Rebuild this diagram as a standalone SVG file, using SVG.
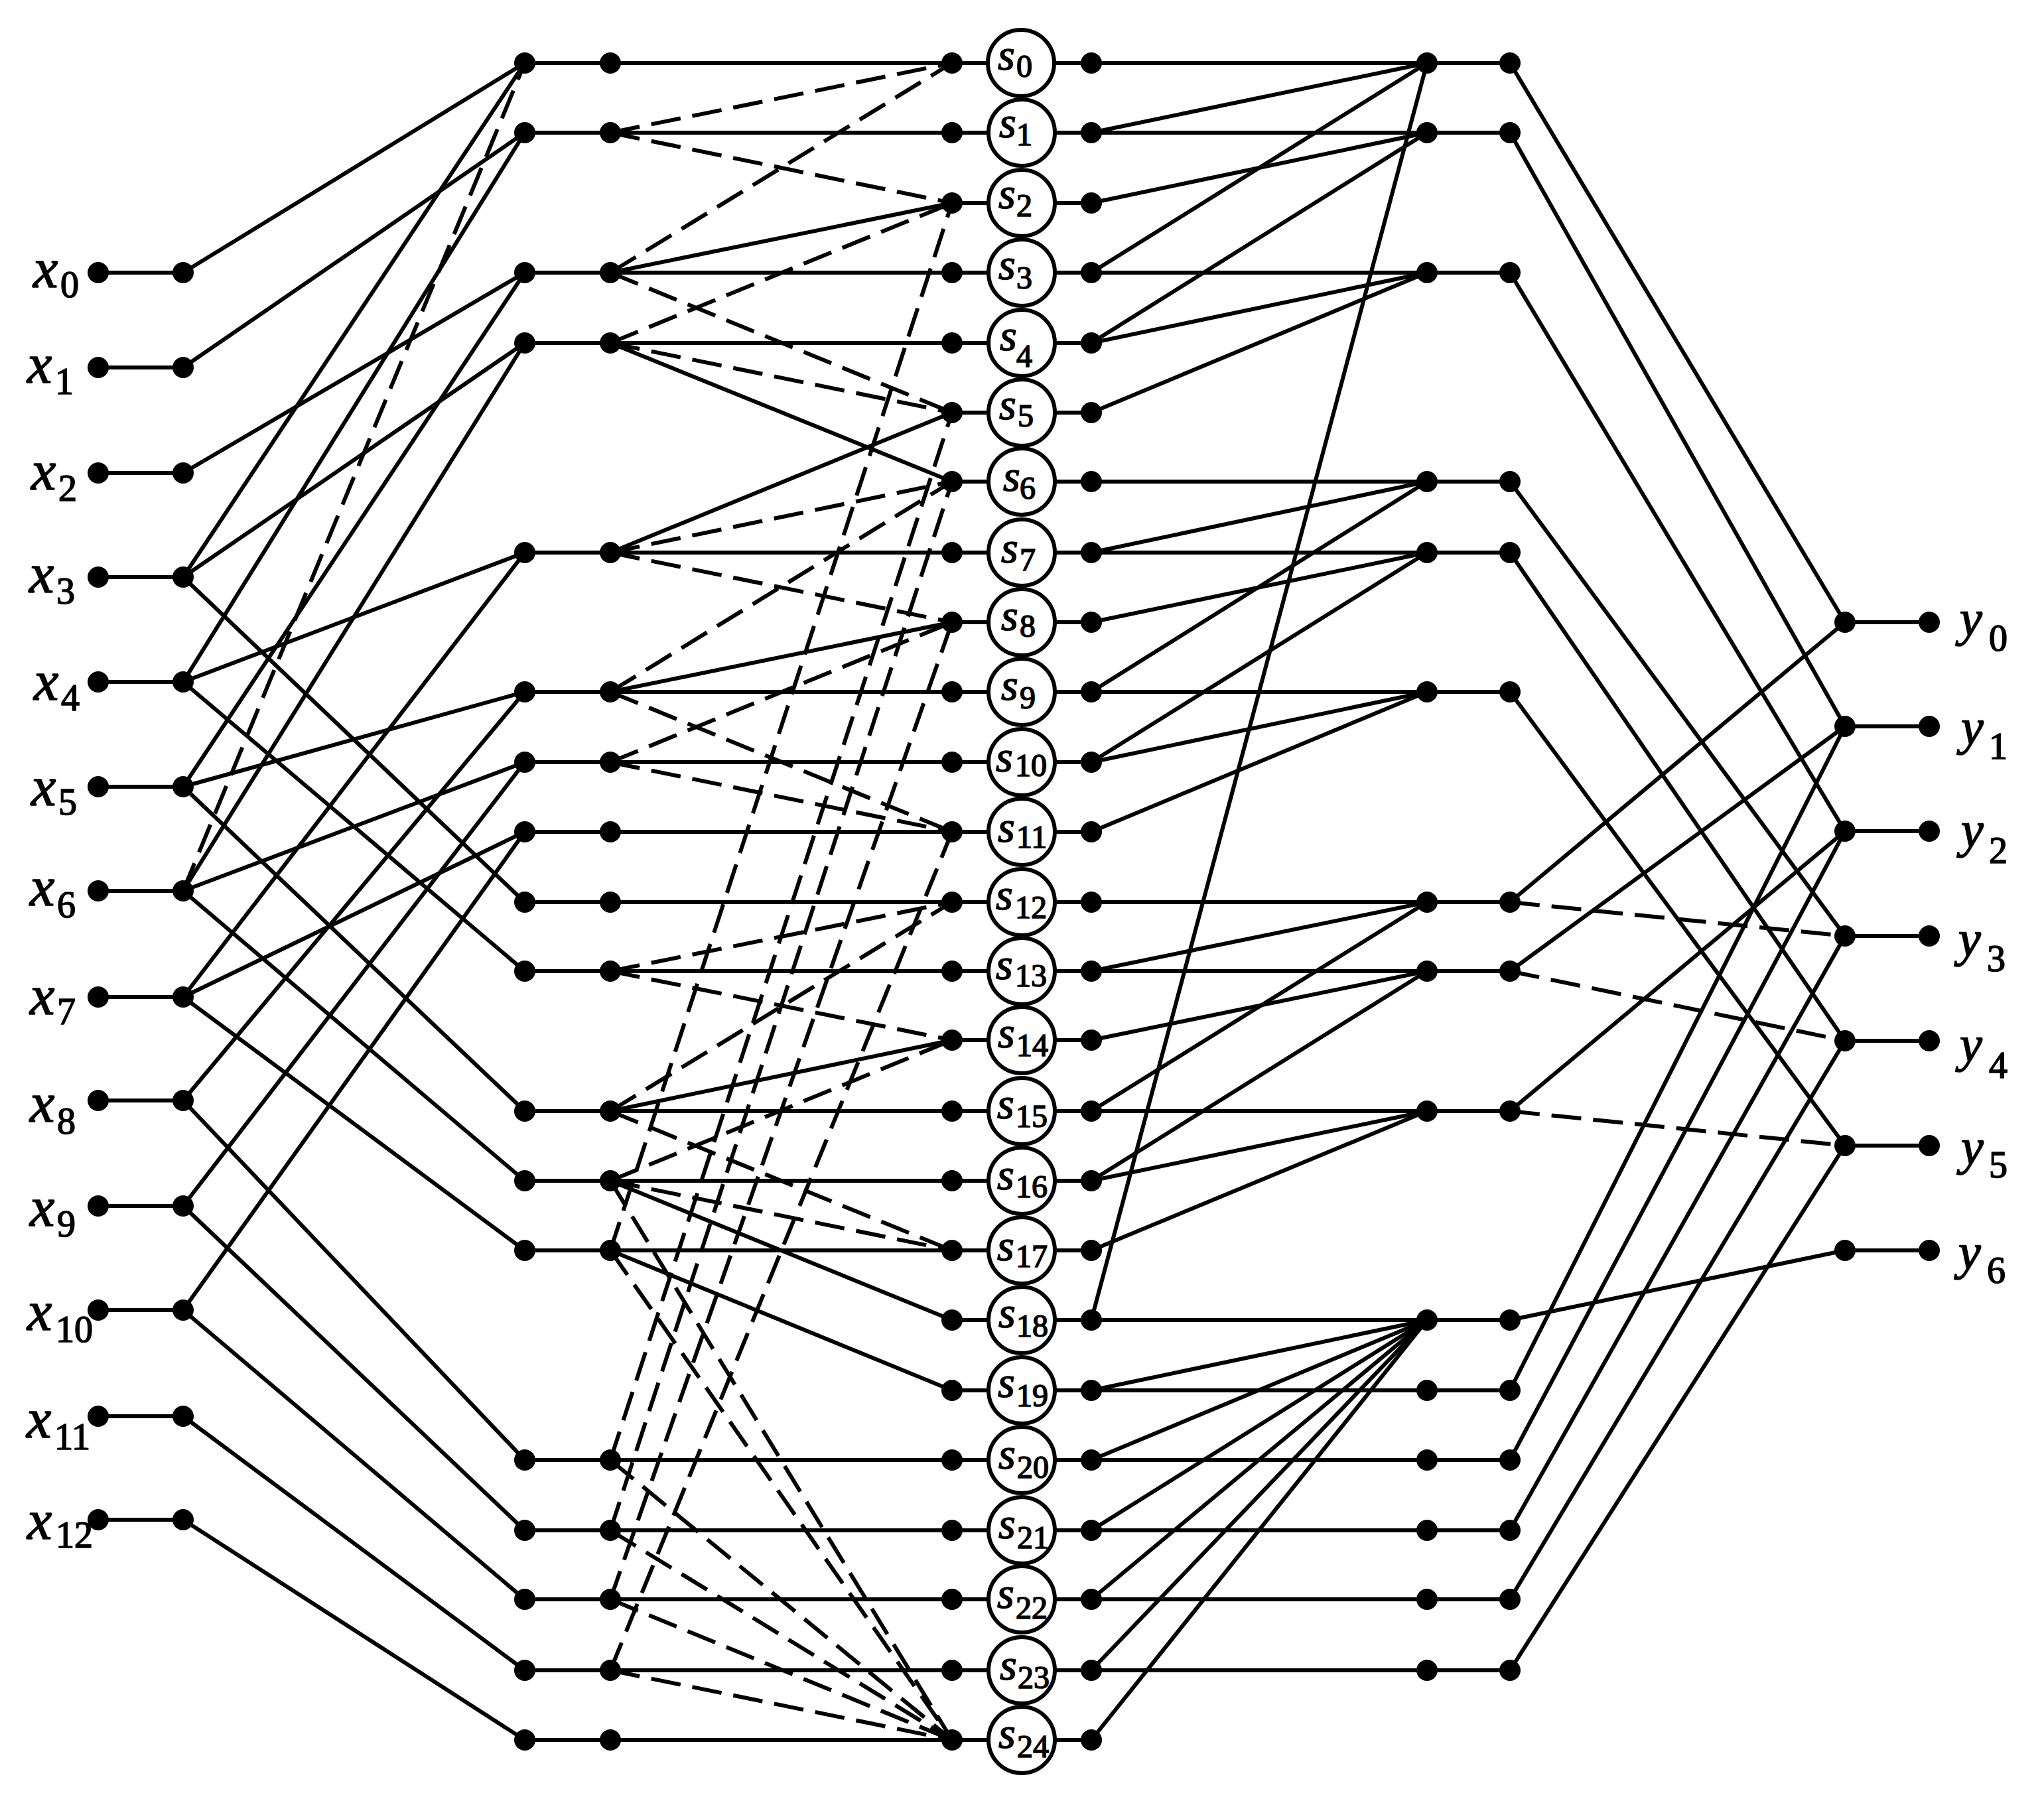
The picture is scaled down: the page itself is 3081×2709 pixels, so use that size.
<svg xmlns="http://www.w3.org/2000/svg" width="3081" height="2709" viewBox="0 0 3081 2709">
<style>
path{fill:none;stroke:#000;stroke-width:6}
.d{stroke-dasharray:45 18}
.n{fill:#000}
.o{fill:#fff;stroke:#000;stroke-width:6}
text{font-family:"Liberation Serif","DejaVu Serif",serif;font-style:italic;fill:#000;stroke:#000;stroke-width:1.6}
.l{font-size:84px}
.m{font-size:66px}
.b{font-style:normal}
.l .b{font-size:56px}
.m .b{font-size:48px}
#labels-y text{font-size:76px}
#labels-y .b{font-size:56px}
</style>
<rect width="3081" height="2709" fill="#fff"/>
<g id="connectors">
<path d="M148 411H276M148 554H276M148 713H276M148 870H276M148 1028H276M148 1186H276M148 1343H276M148 1503H276M148 1659H276M148 1818H276M148 1975H276M148 2135H276M148 2291H276"/>
<path d="M276 411L791 95"/><path d="M276 554L791 200"/><path d="M276 713L791 411"/>
<path d="M276 870L791 95"/><path d="M276 870L791 517"/><path d="M276 870L791 1360"/>
<path d="M276 1028L791 200"/><path d="M276 1028L791 833"/><path d="M276 1028L791 1464"/>
<path d="M276 1186L791 411"/><path d="M276 1186L791 1043"/><path d="M276 1186L791 1675"/>
<path d="M276 1343L791 517"/><path d="M276 1343L791 1149"/><path d="M276 1343L791 1780"/>
<path class="d" d="M276 1343L791 95"/>
<path d="M276 1503L791 833"/><path d="M276 1503L791 1254"/><path d="M276 1503L791 1885"/>
<path d="M276 1659L791 1043"/><path d="M276 1659L791 2201"/>
<path d="M276 1818L791 1149"/><path d="M276 1818L791 2307"/>
<path d="M276 1975L791 1254"/><path d="M276 1975L791 2411"/>
<path d="M276 2135L791 2518"/><path d="M276 2291L791 2623"/>
<path d="M791 95H1490M791 200H1490M791 411H1490M791 517H1490M791 833H1490M791 1043H1490M791 1149H1490M791 1254H1490M791 1360H1490M791 1464H1490M791 1675H1490M791 1780H1490M791 1885H1490M791 2201H1490M791 2307H1490M791 2411H1490M791 2518H1490M791 2623H1490"/>
<path d="M1435 306H1490M1435 622H1490M1435 726H1490M1435 938H1490M1435 1568H1490M1435 1990H1490M1435 2096H1490"/>
<path class="d" d="M920 200L1435 95"/><path class="d" d="M920 200L1435 306"/>
<path class="d" d="M920 411L1435 95"/><path d="M920 411L1435 306"/><path class="d" d="M920 411L1435 622"/>
<path class="d" d="M920 517L1435 306"/><path class="d" d="M920 517L1435 622"/><path d="M920 517L1435 726"/>
<path d="M920 833L1435 622"/><path class="d" d="M920 833L1435 726"/><path class="d" d="M920 833L1435 938"/>
<path class="d" d="M920 1043L1435 726"/><path d="M920 1043L1435 938"/><path class="d" d="M920 1043L1435 1254"/>
<path class="d" d="M920 1149L1435 938"/><path class="d" d="M920 1149L1435 1254"/>
<path class="d" d="M920 1464L1435 1360"/><path class="d" d="M920 1464L1435 1568"/>
<path class="d" d="M920 1675L1435 1360"/><path d="M920 1675L1435 1568"/><path class="d" d="M920 1675L1435 1885"/>
<path class="d" d="M920 1780L1435 1568"/><path class="d" d="M920 1780L1435 1885"/><path d="M920 1780L1435 1990"/>
<path d="M920 1885L1435 2096"/>
<path class="d" d="M920 1885L1435 306"/><path class="d" d="M920 2201L1435 622"/><path class="d" d="M920 2307L1435 726"/><path class="d" d="M920 2411L1435 938"/><path class="d" d="M920 2518L1435 1254"/>
<path class="d" d="M920 1780L1435 2623"/><path class="d" d="M920 1885L1435 2623"/><path class="d" d="M920 2201L1435 2623"/><path class="d" d="M920 2307L1435 2623"/><path class="d" d="M920 2411L1435 2623"/><path class="d" d="M920 2518L1435 2623"/>
<path d="M1590 95H1645M1590 200H1645M1590 306H1645M1590 411H1645M1590 517H1645M1590 622H1645M1590 726H1645M1590 833H1645M1590 938H1645M1590 1043H1645M1590 1149H1645M1590 1254H1645M1590 1360H1645M1590 1464H1645M1590 1568H1645M1590 1675H1645M1590 1780H1645M1590 1885H1645M1590 1990H1645M1590 2096H1645M1590 2201H1645M1590 2307H1645M1590 2411H1645M1590 2518H1645M1590 2623H1645"/>
<path d="M1645 95H2276M1645 200H2276M1645 411H2276M1645 726H2276M1645 833H2276M1645 1043H2276M1645 1360H2276M1645 1464H2276M1645 1675H2276M1645 1990H2276M1645 2096H2276M1645 2201H2276M1645 2307H2276M1645 2411H2276M1645 2518H2276"/>
<path d="M1645 200L2151 95"/><path d="M1645 306L2151 200"/><path d="M1645 411L2151 95"/><path d="M1645 517L2151 200"/><path d="M1645 517L2151 411"/><path d="M1645 622L2151 411"/>
<path d="M1645 833L2151 726"/><path d="M1645 938L2151 833"/><path d="M1645 1043L2151 726"/><path d="M1645 1149L2151 833"/><path d="M1645 1149L2151 1043"/><path d="M1645 1254L2151 1043"/>
<path d="M1645 1464L2151 1360"/><path d="M1645 1568L2151 1464"/><path d="M1645 1675L2151 1360"/><path d="M1645 1780L2151 1464"/><path d="M1645 1780L2151 1675"/><path d="M1645 1885L2151 1675"/>
<path d="M1645 1990L2151 95"/>
<path d="M1645 2096L2151 1990"/><path d="M1645 2201L2151 1990"/><path d="M1645 2307L2151 1990"/><path d="M1645 2411L2151 1990"/><path d="M1645 2518L2151 1990"/><path d="M1645 2623L2151 1990"/>
<path d="M2276 95L2781 938"/><path d="M2276 200L2781 1095"/><path d="M2276 411L2781 1253"/><path d="M2276 726L2781 1411"/><path d="M2276 833L2781 1569"/><path d="M2276 1043L2781 1727"/>
<path d="M2276 1360L2781 938"/><path class="d" d="M2276 1360L2781 1411"/>
<path d="M2276 1464L2781 1095"/><path class="d" d="M2276 1464L2781 1569"/>
<path d="M2276 1675L2781 1253"/><path class="d" d="M2276 1675L2781 1727"/>
<path d="M2276 1990L2781 1885"/>
<path d="M2276 2096L2781 1095"/><path d="M2276 2201L2781 1253"/><path d="M2276 2307L2781 1411"/><path d="M2276 2411L2781 1569"/><path d="M2276 2518L2781 1727"/>
<path d="M2781 938H2908M2781 1095H2908M2781 1253H2908M2781 1411H2908M2781 1569H2908M2781 1727H2908M2781 1885H2908"/>
</g>
<g id="dots-input">
<g id="a0"><circle class="n" cx="148" cy="411" r="16"/></g><g id="a1"><circle class="n" cx="148" cy="554" r="16"/></g><g id="a2"><circle class="n" cx="148" cy="713" r="16"/></g><g id="a3"><circle class="n" cx="148" cy="870" r="16"/></g><g id="a4"><circle class="n" cx="148" cy="1028" r="16"/></g><g id="a5"><circle class="n" cx="148" cy="1186" r="16"/></g><g id="a6"><circle class="n" cx="148" cy="1343" r="16"/></g><g id="a7"><circle class="n" cx="148" cy="1503" r="16"/></g><g id="a8"><circle class="n" cx="148" cy="1659" r="16"/></g><g id="a9"><circle class="n" cx="148" cy="1818" r="16"/></g><g id="a10"><circle class="n" cx="148" cy="1975" r="16"/></g><g id="a11"><circle class="n" cx="148" cy="2135" r="16"/></g><g id="a12"><circle class="n" cx="148" cy="2291" r="16"/></g>
<g id="b0"><circle class="n" cx="276" cy="411" r="16"/></g><g id="b1"><circle class="n" cx="276" cy="554" r="16"/></g><g id="b2"><circle class="n" cx="276" cy="713" r="16"/></g><g id="b3"><circle class="n" cx="276" cy="870" r="16"/></g><g id="b4"><circle class="n" cx="276" cy="1028" r="16"/></g><g id="b5"><circle class="n" cx="276" cy="1186" r="16"/></g><g id="b6"><circle class="n" cx="276" cy="1343" r="16"/></g><g id="b7"><circle class="n" cx="276" cy="1503" r="16"/></g><g id="b8"><circle class="n" cx="276" cy="1659" r="16"/></g><g id="b9"><circle class="n" cx="276" cy="1818" r="16"/></g><g id="b10"><circle class="n" cx="276" cy="1975" r="16"/></g><g id="b11"><circle class="n" cx="276" cy="2135" r="16"/></g><g id="b12"><circle class="n" cx="276" cy="2291" r="16"/></g>
</g>
<g id="dots-left">
<g id="c0"><circle class="n" cx="791" cy="95" r="16"/></g><g id="c1"><circle class="n" cx="791" cy="200" r="16"/></g><g id="c3"><circle class="n" cx="791" cy="411" r="16"/></g><g id="c4"><circle class="n" cx="791" cy="517" r="16"/></g><g id="c7"><circle class="n" cx="791" cy="833" r="16"/></g><g id="c9"><circle class="n" cx="791" cy="1043" r="16"/></g><g id="c10"><circle class="n" cx="791" cy="1149" r="16"/></g><g id="c11"><circle class="n" cx="791" cy="1254" r="16"/></g><g id="c12"><circle class="n" cx="791" cy="1360" r="16"/></g><g id="c13"><circle class="n" cx="791" cy="1464" r="16"/></g><g id="c15"><circle class="n" cx="791" cy="1675" r="16"/></g><g id="c16"><circle class="n" cx="791" cy="1780" r="16"/></g><g id="c17"><circle class="n" cx="791" cy="1885" r="16"/></g><g id="c20"><circle class="n" cx="791" cy="2201" r="16"/></g><g id="c21"><circle class="n" cx="791" cy="2307" r="16"/></g><g id="c22"><circle class="n" cx="791" cy="2411" r="16"/></g><g id="c23"><circle class="n" cx="791" cy="2518" r="16"/></g><g id="c24"><circle class="n" cx="791" cy="2623" r="16"/></g>
<g id="d0"><circle class="n" cx="920" cy="95" r="16"/></g><g id="d1"><circle class="n" cx="920" cy="200" r="16"/></g><g id="d3"><circle class="n" cx="920" cy="411" r="16"/></g><g id="d4"><circle class="n" cx="920" cy="517" r="16"/></g><g id="d7"><circle class="n" cx="920" cy="833" r="16"/></g><g id="d9"><circle class="n" cx="920" cy="1043" r="16"/></g><g id="d10"><circle class="n" cx="920" cy="1149" r="16"/></g><g id="d11"><circle class="n" cx="920" cy="1254" r="16"/></g><g id="d12"><circle class="n" cx="920" cy="1360" r="16"/></g><g id="d13"><circle class="n" cx="920" cy="1464" r="16"/></g><g id="d15"><circle class="n" cx="920" cy="1675" r="16"/></g><g id="d16"><circle class="n" cx="920" cy="1780" r="16"/></g><g id="d17"><circle class="n" cx="920" cy="1885" r="16"/></g><g id="d20"><circle class="n" cx="920" cy="2201" r="16"/></g><g id="d21"><circle class="n" cx="920" cy="2307" r="16"/></g><g id="d22"><circle class="n" cx="920" cy="2411" r="16"/></g><g id="d23"><circle class="n" cx="920" cy="2518" r="16"/></g><g id="d24"><circle class="n" cx="920" cy="2623" r="16"/></g>
</g>
<g id="dots-mid">
<g id="e0"><circle class="n" cx="1435" cy="95" r="16"/></g><g id="e1"><circle class="n" cx="1435" cy="200" r="16"/></g><g id="e2"><circle class="n" cx="1435" cy="306" r="16"/></g><g id="e3"><circle class="n" cx="1435" cy="411" r="16"/></g><g id="e4"><circle class="n" cx="1435" cy="517" r="16"/></g><g id="e5"><circle class="n" cx="1435" cy="622" r="16"/></g><g id="e6"><circle class="n" cx="1435" cy="726" r="16"/></g><g id="e7"><circle class="n" cx="1435" cy="833" r="16"/></g><g id="e8"><circle class="n" cx="1435" cy="938" r="16"/></g><g id="e9"><circle class="n" cx="1435" cy="1043" r="16"/></g><g id="e10"><circle class="n" cx="1435" cy="1149" r="16"/></g><g id="e11"><circle class="n" cx="1435" cy="1254" r="16"/></g><g id="e12"><circle class="n" cx="1435" cy="1360" r="16"/></g><g id="e13"><circle class="n" cx="1435" cy="1464" r="16"/></g><g id="e14"><circle class="n" cx="1435" cy="1568" r="16"/></g><g id="e15"><circle class="n" cx="1435" cy="1675" r="16"/></g><g id="e16"><circle class="n" cx="1435" cy="1780" r="16"/></g><g id="e17"><circle class="n" cx="1435" cy="1885" r="16"/></g><g id="e18"><circle class="n" cx="1435" cy="1990" r="16"/></g><g id="e19"><circle class="n" cx="1435" cy="2096" r="16"/></g><g id="e20"><circle class="n" cx="1435" cy="2201" r="16"/></g><g id="e21"><circle class="n" cx="1435" cy="2307" r="16"/></g><g id="e22"><circle class="n" cx="1435" cy="2411" r="16"/></g><g id="e23"><circle class="n" cx="1435" cy="2518" r="16"/></g><g id="e24"><circle class="n" cx="1435" cy="2623" r="16"/></g>
<g id="f0"><circle class="n" cx="1645" cy="95" r="16"/></g><g id="f1"><circle class="n" cx="1645" cy="200" r="16"/></g><g id="f2"><circle class="n" cx="1645" cy="306" r="16"/></g><g id="f3"><circle class="n" cx="1645" cy="411" r="16"/></g><g id="f4"><circle class="n" cx="1645" cy="517" r="16"/></g><g id="f5"><circle class="n" cx="1645" cy="622" r="16"/></g><g id="f6"><circle class="n" cx="1645" cy="726" r="16"/></g><g id="f7"><circle class="n" cx="1645" cy="833" r="16"/></g><g id="f8"><circle class="n" cx="1645" cy="938" r="16"/></g><g id="f9"><circle class="n" cx="1645" cy="1043" r="16"/></g><g id="f10"><circle class="n" cx="1645" cy="1149" r="16"/></g><g id="f11"><circle class="n" cx="1645" cy="1254" r="16"/></g><g id="f12"><circle class="n" cx="1645" cy="1360" r="16"/></g><g id="f13"><circle class="n" cx="1645" cy="1464" r="16"/></g><g id="f14"><circle class="n" cx="1645" cy="1568" r="16"/></g><g id="f15"><circle class="n" cx="1645" cy="1675" r="16"/></g><g id="f16"><circle class="n" cx="1645" cy="1780" r="16"/></g><g id="f17"><circle class="n" cx="1645" cy="1885" r="16"/></g><g id="f18"><circle class="n" cx="1645" cy="1990" r="16"/></g><g id="f19"><circle class="n" cx="1645" cy="2096" r="16"/></g><g id="f20"><circle class="n" cx="1645" cy="2201" r="16"/></g><g id="f21"><circle class="n" cx="1645" cy="2307" r="16"/></g><g id="f22"><circle class="n" cx="1645" cy="2411" r="16"/></g><g id="f23"><circle class="n" cx="1645" cy="2518" r="16"/></g><g id="f24"><circle class="n" cx="1645" cy="2623" r="16"/></g>
</g>
<g id="dots-right">
<g id="g0"><circle class="n" cx="2151" cy="95" r="16"/></g><g id="g1"><circle class="n" cx="2151" cy="200" r="16"/></g><g id="g3"><circle class="n" cx="2151" cy="411" r="16"/></g><g id="g6"><circle class="n" cx="2151" cy="726" r="16"/></g><g id="g7"><circle class="n" cx="2151" cy="833" r="16"/></g><g id="g9"><circle class="n" cx="2151" cy="1043" r="16"/></g><g id="g12"><circle class="n" cx="2151" cy="1360" r="16"/></g><g id="g13"><circle class="n" cx="2151" cy="1464" r="16"/></g><g id="g15"><circle class="n" cx="2151" cy="1675" r="16"/></g><g id="g18"><circle class="n" cx="2151" cy="1990" r="16"/></g><g id="g19"><circle class="n" cx="2151" cy="2096" r="16"/></g><g id="g20"><circle class="n" cx="2151" cy="2201" r="16"/></g><g id="g21"><circle class="n" cx="2151" cy="2307" r="16"/></g><g id="g22"><circle class="n" cx="2151" cy="2411" r="16"/></g><g id="g23"><circle class="n" cx="2151" cy="2518" r="16"/></g>
<g id="h0"><circle class="n" cx="2276" cy="95" r="16"/></g><g id="h1"><circle class="n" cx="2276" cy="200" r="16"/></g><g id="h3"><circle class="n" cx="2276" cy="411" r="16"/></g><g id="h6"><circle class="n" cx="2276" cy="726" r="16"/></g><g id="h7"><circle class="n" cx="2276" cy="833" r="16"/></g><g id="h9"><circle class="n" cx="2276" cy="1043" r="16"/></g><g id="h12"><circle class="n" cx="2276" cy="1360" r="16"/></g><g id="h13"><circle class="n" cx="2276" cy="1464" r="16"/></g><g id="h15"><circle class="n" cx="2276" cy="1675" r="16"/></g><g id="h18"><circle class="n" cx="2276" cy="1990" r="16"/></g><g id="h19"><circle class="n" cx="2276" cy="2096" r="16"/></g><g id="h20"><circle class="n" cx="2276" cy="2201" r="16"/></g><g id="h21"><circle class="n" cx="2276" cy="2307" r="16"/></g><g id="h22"><circle class="n" cx="2276" cy="2411" r="16"/></g><g id="h23"><circle class="n" cx="2276" cy="2518" r="16"/></g>
</g>
<g id="dots-output">
<g id="i0"><circle class="n" cx="2781" cy="938" r="16"/></g><g id="i1"><circle class="n" cx="2781" cy="1095" r="16"/></g><g id="i2"><circle class="n" cx="2781" cy="1253" r="16"/></g><g id="i3"><circle class="n" cx="2781" cy="1411" r="16"/></g><g id="i4"><circle class="n" cx="2781" cy="1569" r="16"/></g><g id="i5"><circle class="n" cx="2781" cy="1727" r="16"/></g><g id="i6"><circle class="n" cx="2781" cy="1885" r="16"/></g>
<g id="j0"><circle class="n" cx="2908" cy="938" r="16"/></g><g id="j1"><circle class="n" cx="2908" cy="1095" r="16"/></g><g id="j2"><circle class="n" cx="2908" cy="1253" r="16"/></g><g id="j3"><circle class="n" cx="2908" cy="1411" r="16"/></g><g id="j4"><circle class="n" cx="2908" cy="1569" r="16"/></g><g id="j5"><circle class="n" cx="2908" cy="1727" r="16"/></g><g id="j6"><circle class="n" cx="2908" cy="1885" r="16"/></g>
</g>
<g id="states">
<g id="s0"><circle class="o" cx="1539" cy="95" r="50"/><text class="m" x="1504" y="105">s<tspan class="b" x="1532" y="116">0</tspan></text></g>
<g id="s1"><circle class="o" cx="1540" cy="200" r="50"/><text class="m" x="1506" y="207">s<tspan class="b" x="1532" y="219">1</tspan></text></g>
<g id="s2"><circle class="o" cx="1540" cy="306" r="50"/><text class="m" x="1505" y="314">s<tspan class="b" x="1532" y="326">2</tspan></text></g>
<g id="s3"><circle class="o" cx="1540" cy="411" r="50"/><text class="m" x="1505" y="421">s<tspan class="b" x="1532" y="435">3</tspan></text></g>
<g id="s4"><circle class="o" cx="1540" cy="517" r="50"/><text class="m" x="1507" y="528">s<tspan class="b" x="1532" y="553">4</tspan></text></g>
<g id="s5"><circle class="o" cx="1540" cy="622" r="50"/><text class="m" x="1506" y="632">s<tspan class="b" x="1534" y="643">5</tspan></text></g>
<g id="s6"><circle class="o" cx="1540" cy="726" r="50"/><text class="m" x="1512" y="740">s<tspan class="b" x="1537" y="752">6</tspan></text></g>
<g id="s7"><circle class="o" cx="1540" cy="833" r="50"/><text class="m" x="1509" y="848">s<tspan class="b" x="1537" y="860">7</tspan></text></g>
<g id="s8"><circle class="o" cx="1540" cy="938" r="50"/><text class="m" x="1509" y="950">s<tspan class="b" x="1537" y="960">8</tspan></text></g>
<g id="s9"><circle class="o" cx="1540" cy="1043" r="50"/><text class="m" x="1509" y="1055">s<tspan class="b" x="1537" y="1068">9</tspan></text></g>
<g id="s10"><circle class="o" cx="1540" cy="1149" r="50"/><text class="m" x="1501" y="1163">s<tspan class="b" x="1530" y="1170">10</tspan></text></g>
<g id="s11"><circle class="o" cx="1540" cy="1254" r="50"/><text class="m" x="1504" y="1269">s<tspan class="b" x="1532" y="1278">11</tspan></text></g>
<g id="s12"><circle class="o" cx="1540" cy="1360" r="50"/><text class="m" x="1501" y="1371">s<tspan class="b" x="1530" y="1384">12</tspan></text></g>
<g id="s13"><circle class="o" cx="1540" cy="1464" r="50"/><text class="m" x="1501" y="1476">s<tspan class="b" x="1530" y="1487">13</tspan></text></g>
<g id="s14"><circle class="o" cx="1540" cy="1568" r="50"/><text class="m" x="1504" y="1579">s<tspan class="b" x="1532" y="1592">14</tspan></text></g>
<g id="s15"><circle class="o" cx="1540" cy="1675" r="50"/><text class="m" x="1503" y="1686">s<tspan class="b" x="1531" y="1699">15</tspan></text></g>
<g id="s16"><circle class="o" cx="1540" cy="1780" r="50"/><text class="m" x="1503" y="1793">s<tspan class="b" x="1531" y="1805">16</tspan></text></g>
<g id="s17"><circle class="o" cx="1540" cy="1885" r="50"/><text class="m" x="1503" y="1900">s<tspan class="b" x="1531" y="1910">17</tspan></text></g>
<g id="s18"><circle class="o" cx="1540" cy="1990" r="50"/><text class="m" x="1505" y="2001">s<tspan class="b" x="1532" y="2015">18</tspan></text></g>
<g id="s19"><circle class="o" cx="1540" cy="2096" r="50"/><text class="m" x="1504" y="2106">s<tspan class="b" x="1532" y="2120">19</tspan></text></g>
<g id="s20"><circle class="o" cx="1540" cy="2201" r="50"/><text class="m" x="1505" y="2214">s<tspan class="b" x="1533" y="2228">20</tspan></text></g>
<g id="s21"><circle class="o" cx="1540" cy="2307" r="50"/><text class="m" x="1505" y="2319">s<tspan class="b" x="1533" y="2334">21</tspan></text></g>
<g id="s22"><circle class="o" cx="1540" cy="2411" r="50"/><text class="m" x="1503" y="2424">s<tspan class="b" x="1531" y="2440">22</tspan></text></g>
<g id="s23"><circle class="o" cx="1540" cy="2518" r="50"/><text class="m" x="1507" y="2532">s<tspan class="b" x="1534" y="2545">23</tspan></text></g>
<g id="s24"><circle class="o" cx="1540" cy="2623" r="50"/><text class="m" x="1505" y="2635">s<tspan class="b" x="1533" y="2649">24</tspan></text></g>
</g>
<g id="labels-x">
<text class="l" x="50" y="433">x<tspan class="b" x="91" y="448">0</tspan></text>
<text class="l" x="41" y="577">x<tspan class="b" x="83" y="594">1</tspan></text>
<text class="l" x="47" y="738">x<tspan class="b" x="88" y="755">2</tspan></text>
<text class="l" x="44" y="893">x<tspan class="b" x="85" y="910">3</tspan></text>
<text class="l" x="51" y="1055">x<tspan class="b" x="92" y="1071">4</tspan></text>
<text class="l" x="47" y="1214">x<tspan class="b" x="88" y="1228">5</tspan></text>
<text class="l" x="45" y="1365">x<tspan class="b" x="86" y="1383">6</tspan></text>
<text class="l" x="45" y="1529">x<tspan class="b" x="86" y="1544">7</tspan></text>
<text class="l" x="45" y="1691">x<tspan class="b" x="86" y="1709">8</tspan></text>
<text class="l" x="45" y="1848">x<tspan class="b" x="86" y="1864">9</tspan></text>
<text class="l" x="41" y="2005">x<tspan class="b" x="84" y="2023">10</tspan></text>
<text class="l" x="40" y="2167">x<tspan class="b" x="82" y="2185">11</tspan></text>
<text class="l" x="41" y="2320">x<tspan class="b" x="84" y="2333">12</tspan></text>
</g>
<g id="labels-y">
<text class="l" x="2954" y="958">y<tspan class="b" x="2998" y="981">0</tspan></text>
<text class="l" x="2956" y="1122">y<tspan class="b" x="2998" y="1144">1</tspan></text>
<text class="l" x="2956" y="1277">y<tspan class="b" x="2998" y="1301">2</tspan></text>
<text class="l" x="2952" y="1441">y<tspan class="b" x="2995" y="1464">3</tspan></text>
<text class="l" x="2954" y="1600">y<tspan class="b" x="2998" y="1625">4</tspan></text>
<text class="l" x="2956" y="1755">y<tspan class="b" x="2998" y="1775">5</tspan></text>
<text class="l" x="2952" y="1913">y<tspan class="b" x="2995" y="1934">6</tspan></text>
</g>
</svg>
